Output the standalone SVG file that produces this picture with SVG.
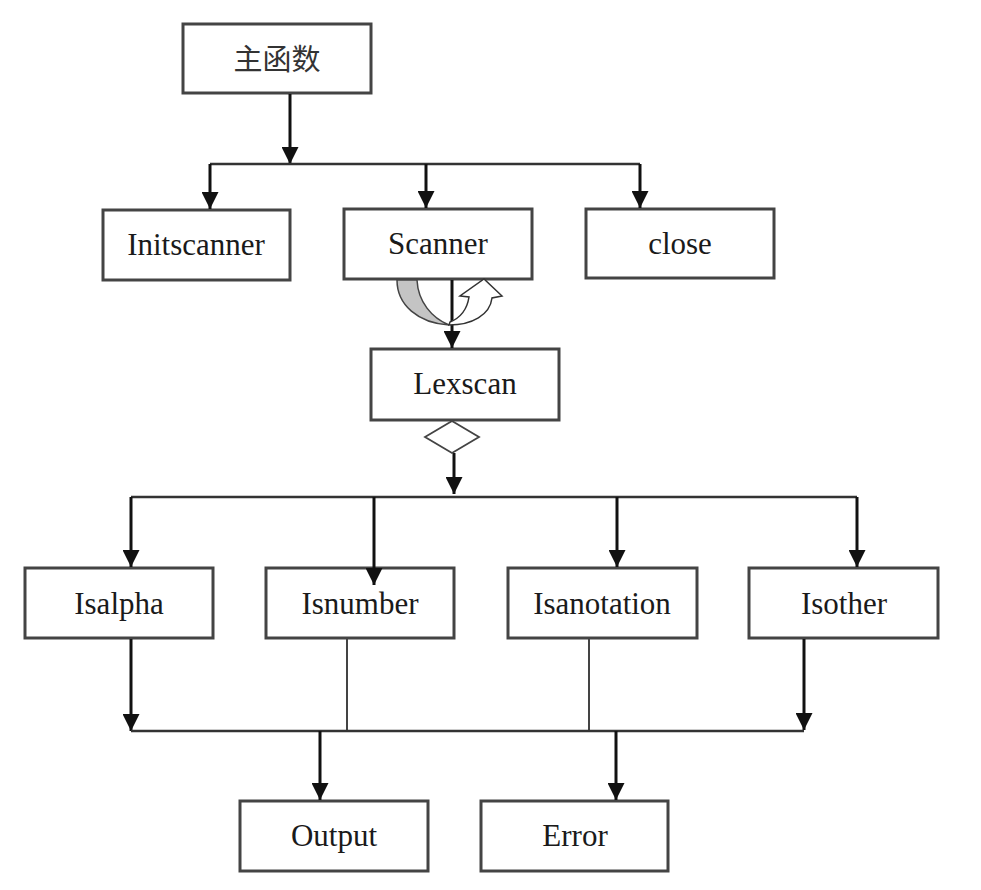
<svg xmlns="http://www.w3.org/2000/svg" width="981" height="890" viewBox="0 0 981 890">
<style>
.box{fill:#fff;stroke:#444;stroke-width:3}
.lbl{font-family:"Liberation Serif","Times New Roman",serif;font-size:31px;fill:#1a1a1a;text-anchor:middle}
.cjk{font-family:"Noto Sans CJK SC","Noto Sans CJK JP",sans-serif;font-size:29px;fill:#333;text-anchor:middle}
.arr{fill:none;stroke:#111;stroke-width:3;marker-end:url(#ah)}
.bus{fill:none;stroke:#333;stroke-width:2.5}
.thin{fill:none;stroke:#444;stroke-width:2}
</style>
<defs>
<marker id="ah" markerUnits="userSpaceOnUse" markerWidth="17" markerHeight="17" viewBox="0 0 16 16" refX="16" refY="8" orient="auto">
<path d="M0,0 L16,8 L0,16 Z" fill="#111"/>
</marker>
</defs>
<rect width="981" height="890" fill="#fff"/>

<g id="node-main"><rect class="box" x="183" y="24" width="188" height="69"/><text class="cjk" x="277" y="70">主函数</text></g>
<g id="node-initscanner"><rect class="box" x="103" y="210" width="187" height="70"/><text class="lbl" x="196" y="255">Initscanner</text></g>
<g id="node-scanner"><rect class="box" x="344" y="209" width="188" height="70"/><text class="lbl" x="438" y="254">Scanner</text></g>
<g id="node-close"><rect class="box" x="586" y="209" width="188" height="69"/><text class="lbl" x="680" y="254">close</text></g>
<g id="node-lexscan"><rect class="box" x="371" y="349" width="188" height="71"/><text class="lbl" x="465" y="394">Lexscan</text></g>
<g id="node-isalpha"><rect class="box" x="25" y="568" width="188" height="70"/><text class="lbl" x="119" y="614">Isalpha</text></g>
<g id="node-isnumber"><rect class="box" x="266" y="568" width="188" height="70"/><text class="lbl" x="360" y="614">Isnumber</text></g>
<g id="node-isanotation"><rect class="box" x="508" y="568" width="189" height="70"/><text class="lbl" x="602" y="614">Isanotation</text></g>
<g id="node-isother"><rect class="box" x="749" y="568" width="189" height="70"/><text class="lbl" x="844" y="614">Isother</text></g>
<g id="node-output"><rect class="box" x="240" y="801" width="188" height="70"/><text class="lbl" x="334" y="846">Output</text></g>
<g id="node-error"><rect class="box" x="481" y="801" width="187" height="70"/><text class="lbl" x="575" y="846">Error</text></g>

<g id="connectors">
<line class="arr" x1="290" y1="94" x2="290" y2="164"/>
<line class="bus" x1="210" y1="164" x2="640" y2="164"/>
<line class="arr" x1="210" y1="164" x2="210" y2="209"/>
<line class="arr" x1="426" y1="164" x2="426" y2="208"/>
<line class="arr" x1="640" y1="164" x2="640" y2="208"/>
<line class="arr" x1="452" y1="280" x2="452" y2="348"/>
<line class="arr" x1="454" y1="453" x2="454" y2="494"/>
<line class="bus" x1="131" y1="497" x2="857" y2="497"/>
<line class="arr" x1="131" y1="497" x2="131" y2="567"/>
<line class="arr" x1="374" y1="497" x2="374" y2="585"/>
<line class="arr" x1="617" y1="497" x2="617" y2="567"/>
<line class="arr" x1="857" y1="497" x2="857" y2="567"/>
<line class="arr" x1="131" y1="639" x2="131" y2="731"/>
<line class="thin" x1="347" y1="639" x2="347" y2="731"/>
<line class="thin" x1="589" y1="639" x2="589" y2="731"/>
<line class="arr" x1="804" y1="639" x2="804" y2="730"/>
<line class="bus" x1="131" y1="731" x2="804" y2="731"/>
<line class="arr" x1="320" y1="731" x2="320" y2="800"/>
<line class="arr" x1="616" y1="731" x2="616" y2="800"/>
<path d="M 397 280 C 397 305, 418 323, 449 325 C 432 318, 418 302, 417 280 Z" fill="#c4c4c4" stroke="#444" stroke-width="1.5"/>
<path d="M 449 325 C 472 325, 490 315, 492 298 L 502 296 L 484 279 L 460 296 L 469 297 C 467 310, 460 318, 450 322 Z" fill="#fff" stroke="#333" stroke-width="1.5"/>
<polygon points="452,421 479,437 452,453 425,437" fill="#fff" stroke="#444" stroke-width="1.8"/>
</g>
</svg>
